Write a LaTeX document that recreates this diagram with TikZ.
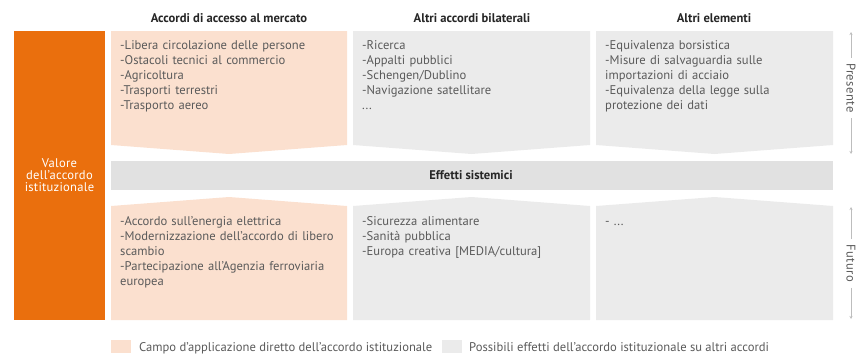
\documentclass[tikz,border=0pt]{standalone}
\usepackage{fontspec}
\setmainfont{PT Sans}
\usepackage{xcolor}
\usetikzlibrary{arrows.meta, positioning}

\definecolor{orangeIA}{HTML}{EA6F0D}
\definecolor{peach}{HTML}{FBE0CF}
\definecolor{lightgrey}{HTML}{EBEBEB}
\definecolor{bargrey}{HTML}{E1E1E1}
\definecolor{txtgrey}{HTML}{5A5A5A}
\definecolor{arrowgrey}{HTML}{BDBDBD}

\begin{document}
\begin{tikzpicture}[x=1pt, y=-1pt,
  head/.style={font=\fontsize{12.6}{14}\selectfont\bfseries, text=black!85, anchor=base},
  item/.style={font=\fontsize{12.6}{15}\selectfont, text=txtgrey, anchor=base west,
    align=left, inner sep=0pt, text width=230pt},
  legend/.style={font=\fontsize{12.6}{14}\selectfont, text=txtgrey, anchor=base west, inner sep=0pt},
  timeline/.style={-{Stealth[length=3pt, width=3pt]}, arrowgrey, line width=0.6pt},
  tlabel/.style={font=\fontsize{12.6}{14}\selectfont\addfontfeature{LetterSpace=4}, text=txtgrey,
    rotate=-90, inner sep=5pt}
]
  \useasboundingbox (0,0) rectangle (865,354);

  % column headers
  \node[head] (h1) at (229,22) {Accordi di accesso al mercato};
  \node[head] (h2) at (472,22) {Altri accordi bilaterali};
  \node[head] (h3) at (714,22) {Altri elementi};

  % value of the institutional agreement
  \fill[orangeIA] (14,31) rectangle (105,320);
  \node[align=center, text=white, inner sep=0pt,
    font=\fontsize{12.6}{11.8}\selectfont\addfontfeature{LetterSpace=2}] (valore) at (59.5,175)
    {Valore\\dell'accordo\\istituzionale};

  % present row
  \fill[peach] (111,31) -- (347,31) -- (347,145) -- (229,154) -- (111,145) -- cycle;
  \fill[lightgrey] (353,31) -- (590,31) -- (590,145) -- (471.5,154) -- (353,145) -- cycle;
  \fill[lightgrey] (596,31) -- (833,31) -- (833,145) -- (714.5,154) -- (596,145) -- cycle;

  \node[item] (p1) at (120,49) {-Libera circolazione delle persone\\-Ostacoli tecnici al commercio\\-Agricoltura\\-Trasporti terrestri\\-Trasporto aereo};
  \node[item] (p2) at (362,49) {-Ricerca\\-Appalti pubblici\\-Schengen/Dublino\\-Navigazione satellitare\\...};
  \node[item] (p3) at (605,49) {-Equivalenza borsistica\\-Misure di salvaguardia sulle\\importazioni di acciaio\\-Equivalenza della legge sulla\\protezione dei dati};

  % systemic effects
  \fill[bargrey] (111,161) rectangle (833,190);
  \node[head] (eff) at (471,179.5) {Effetti sistemici};

  % future row
  \fill[peach] (111,206) -- (229,197) -- (347,206) -- (347,320) -- (111,320) -- cycle;
  \fill[lightgrey] (353,206) -- (471.5,197) -- (590,206) -- (590,320) -- (353,320) -- cycle;
  \fill[lightgrey] (596,206) -- (714.5,197) -- (833,206) -- (833,320) -- (596,320) -- cycle;

  \node[item] (f1) at (120,225.5) {-Accordo sull'energia elettrica\\-Modernizzazione dell'accordo di libero\\scambio\\-Partecipazione all'Agenzia ferroviaria\\europea};
  \node[item] (f2) at (362,225.5) {-Sicurezza alimentare\\-Sanità pubblica\\-Europa creativa [MEDIA/cultura]};
  \node[item] (f3) at (605,225.5) {- ...};

  % time axis
  \node[tlabel] (pres) at (851,88) {Presente};
  \coordinate (pres top) at (851,32);
  \coordinate (pres bot) at (851,154);
  \draw[timeline] (pres) -- (pres top);
  \draw[timeline] (pres) -- (pres bot);

  \node[tlabel] (fut) at (851,263.5) {Futuro};
  \coordinate (fut top) at (851,207);
  \coordinate (fut bot) at (851,319);
  \draw[timeline] (fut) -- (fut top);
  \draw[timeline] (fut) -- (fut bot);

  % legend
  \fill[peach] (111,340) rectangle (131,353);
  \node[legend] (lg1) at (139,351) {Campo d'applicazione diretto dell'accordo istituzionale};
  \fill[lightgrey] (442,340) rectangle (462,353);
  \node[legend] (lg2) at (469,351) {Possibili effetti dell'accordo istituzionale su altri accordi};
\end{tikzpicture}
\end{document}
